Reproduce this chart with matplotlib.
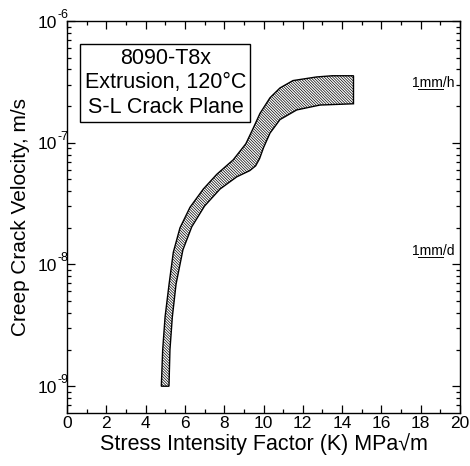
import numpy as np
import matplotlib
matplotlib.use("Agg")
import matplotlib.pyplot as plt
from matplotlib.ticker import LogLocator, NullFormatter, MultipleLocator

plt.rcParams['font.family'] = ['Liberation Sans', 'DejaVu Sans']
plt.rcParams['hatch.linewidth'] = 0.5

# Band upper/left boundary (K, velocity m/s)
upper_K = [4.8, 4.87, 4.99, 5.2, 5.41, 5.75, 6.26, 6.94, 7.62, 8.46, 9.1,
           9.48, 9.82, 10.33, 10.84, 11.5, 12.7, 13.5, 14.58]
upper_v = [1.0e-9, 2.0e-9, 3.7e-9, 7.0e-9, 1.26e-8, 2.0e-8, 2.95e-8, 4.17e-8,
           5.5e-8, 7.24e-8, 9.8e-8, 1.32e-7, 1.74e-7, 2.34e-7, 2.82e-7,
           3.24e-7, 3.47e-7, 3.55e-7, 3.55e-7]
# Band lower/right boundary
lower_K = [5.19, 5.24, 5.36, 5.55, 5.9, 6.35, 7.0, 7.79, 8.64, 9.3, 9.6, 9.8,
           10.0, 10.33, 10.84, 11.69, 12.87, 14.58]
lower_v = [1.0e-9, 2.0e-9, 3.7e-9, 6.9e-9, 1.32e-8, 2.04e-8, 3.02e-8, 4.17e-8,
           5.25e-8, 5.9e-8, 6.46e-8, 7.4e-8, 9.1e-8, 1.2e-7, 1.55e-7,
           1.86e-7, 2.04e-7, 2.09e-7]

ref_labels = ["1mm/h", "1mm/d"]
ref_values = [1e-3 / 3600.0, 1e-3 / 86400.0]

y_decades = [1e-9, 1e-8, 1e-7, 1e-6]
y_exponents = ["-9", "-8", "-7", "-6"]

box_lines = ["8090-T8x", "Extrusion, 120°C", "S-L Crack Plane"]
xlabel = "Stress Intensity Factor (K) MPa\u221am"
ylabel = "Creep Crack Velocity, m/s"

fig = plt.figure(figsize=(4.70, 4.66), dpi=100)
ax = fig.add_axes([67 / 470, 53 / 466, 393 / 470, 392 / 466])

poly_x = list(upper_K) + list(lower_K[::-1])
poly_y = list(upper_v) + list(lower_v[::-1])
ax.fill(poly_x, poly_y, facecolor='white', edgecolor='black', linewidth=1.0,
        hatch='\\' * 12)

ax.set_yscale('log')
ax.set_xlim(0, 20)
ax.set_ylim(10 ** -9.22, 1e-6)

ax.xaxis.set_major_locator(MultipleLocator(2))
ax.xaxis.set_minor_locator(MultipleLocator(1))
ax.yaxis.set_minor_locator(LogLocator(base=10, subs=np.arange(2, 10), numticks=20))
ax.yaxis.set_minor_formatter(NullFormatter())
ax.set_yticks(y_decades)
ax.set_yticklabels([''] * len(y_decades))

ax.tick_params(which='both', direction='in', top=True, right=True, width=0.9)
ax.tick_params(which='major', length=6, labelsize=12.5, pad=2)
ax.tick_params(which='minor', length=3)
for s in ax.spines.values():
    s.set_linewidth(1.0)

# y tick labels as 10 with small raised exponent
for val, ex in zip(y_decades, y_exponents):
    ax.annotate("10", xy=(0, val), xycoords=('axes fraction', 'data'),
                xytext=(-10, -2), textcoords='offset pixels',
                ha='right', va='center', fontsize=12.5, annotation_clip=False)
    ax.annotate(ex, xy=(0, val), xycoords=('axes fraction', 'data'),
                xytext=(-10, 6), textcoords='offset pixels',
                ha='left', va='center', fontsize=9, annotation_clip=False)

ax.set_xlabel(xlabel, fontsize=15.5)
ax.set_ylabel(ylabel, fontsize=15)
ax.xaxis.set_label_coords(0.5, -0.05)
ax.yaxis.set_label_coords(-0.095, 0.5)

ax.text(0.2506, 0.842, "\n".join(box_lines), transform=ax.transAxes,
        ha='center', va='center', fontsize=15.5, linespacing=1.2,
        bbox=dict(boxstyle='square,pad=0.2', facecolor='white',
                  edgecolor='black', linewidth=1.0))

for lab, val in zip(ref_labels, ref_values):
    ax.text(17.56, val * 10 ** (1.5 / 121.7), lab, ha='left', va='baseline',
            fontsize=10)
    ax.plot([17.86, 19.13], [val, val], color='black', linewidth=0.7)

fig.savefig("out.png", dpi=100)
